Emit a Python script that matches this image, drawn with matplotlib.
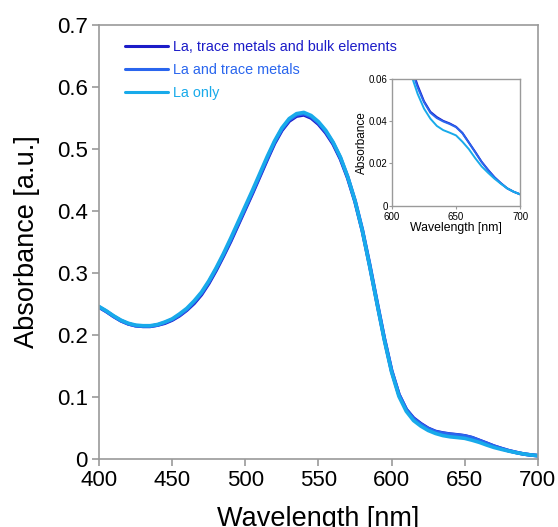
import matplotlib
matplotlib.use("Agg")
import matplotlib.pyplot as plt
from matplotlib.ticker import FuncFormatter

plt.rcParams['font.family'] = ['Liberation Sans', 'DejaVu Sans']

# UV-Vis absorbance spectra, 400-700 nm in 5 nm steps
wl = list(range(400, 705, 5))

# La, trace metals and bulk elements
abs_bulk = [0.245, 0.238, 0.230, 0.223, 0.218, 0.215, 0.214, 0.214, 0.216, 0.219,
            0.224, 0.231, 0.240, 0.251, 0.265, 0.283, 0.304, 0.327, 0.351, 0.377,
            0.403, 0.429, 0.456, 0.483, 0.509, 0.530, 0.545, 0.553, 0.555, 0.550,
            0.540, 0.526, 0.508, 0.484, 0.453, 0.415, 0.368, 0.312, 0.252, 0.194,
            0.142, 0.104, 0.080, 0.066, 0.057, 0.0495, 0.0445, 0.0420, 0.0402, 0.0390,
            0.0374, 0.0345, 0.0300, 0.0255, 0.0208, 0.0170, 0.0135, 0.0107, 0.0082, 0.0066,
            0.0054]

# La and trace metals
abs_trace = [0.245, 0.238, 0.230, 0.223, 0.218, 0.215, 0.214, 0.214, 0.216, 0.220,
             0.225, 0.232, 0.241, 0.253, 0.267, 0.285, 0.306, 0.329, 0.353, 0.379,
             0.405, 0.431, 0.458, 0.485, 0.511, 0.532, 0.547, 0.555, 0.557, 0.552,
             0.542, 0.528, 0.510, 0.486, 0.455, 0.417, 0.370, 0.314, 0.254, 0.195,
             0.143, 0.104, 0.080, 0.065, 0.056, 0.0490, 0.0440, 0.0415, 0.0399, 0.0387,
             0.0372, 0.0343, 0.0298, 0.0253, 0.0207, 0.0169, 0.0134, 0.0106, 0.0082, 0.0066,
             0.0054]

# La only
abs_la = [0.246, 0.239, 0.231, 0.224, 0.219, 0.216, 0.215, 0.215, 0.217, 0.221,
          0.226, 0.234, 0.243, 0.255, 0.269, 0.287, 0.308, 0.331, 0.356, 0.382,
          0.408, 0.434, 0.461, 0.488, 0.513, 0.534, 0.549, 0.557, 0.559, 0.554,
          0.544, 0.530, 0.511, 0.487, 0.455, 0.416, 0.368, 0.311, 0.251, 0.192,
          0.140, 0.101, 0.077, 0.062, 0.053, 0.0460, 0.0412, 0.0378, 0.0358, 0.0346,
          0.0333, 0.0303, 0.0268, 0.0225, 0.0186, 0.0156, 0.0128, 0.0104, 0.0082, 0.0066,
          0.0054]

series = [
    ("La, trace metals and bulk elements", abs_bulk, "#1c1cc8"),
    ("La and trace metals", abs_trace, "#2a66ee"),
    ("La only", abs_la, "#18aaea"),
]

grey = "#9a9a9a"

fig = plt.figure(figsize=(5.58, 5.27), dpi=100)
ax = fig.add_axes([0.1774, 0.129, 0.7866, 0.8236])

for label, y, c in series:
    ax.plot(wl, y, color=c, lw=2.6, label=label, solid_capstyle='round')

ax.set_xlim(400, 700)
ax.set_ylim(0, 0.7)
ax.set_xticks(range(400, 701, 50))
ax.set_yticks([0, 0.1, 0.2, 0.3, 0.4, 0.5, 0.6, 0.7])
ax.yaxis.set_major_formatter(FuncFormatter(lambda v, p: "0" if v == 0 else "%.1f" % v))
ax.tick_params(direction='out', length=5, width=1.2, color=grey, labelsize=16, pad=3)
for s in ax.spines.values():
    s.set_color(grey)
    s.set_linewidth(1.2)
ax.set_xlabel("Wavelength [nm]", fontsize=19.5, labelpad=11)
ax.set_ylabel("Absorbance [a.u.]", fontsize=19.5, labelpad=12)

leg = ax.legend(loc='upper left', bbox_to_anchor=(0.059, 0.966), frameon=False,
                fontsize=10.4, handlelength=3.0, handletextpad=0.35,
                labelspacing=0.62, borderpad=0, borderaxespad=0,
                labelcolor='linecolor')
for h in leg.get_lines():
    h.set_linewidth(2.2)

# inset: zoom on the 600-700 nm shoulder
ins = fig.add_axes([0.7025, 0.6097, 0.2295, 0.2403])
for label, y, c in series:
    ins.plot(wl, y, color=c, lw=1.4)
ins.set_xlim(600, 700)
ins.set_ylim(0, 0.06)
ins.set_xticks([600, 650, 700])
ins.set_yticks([0, 0.02, 0.04, 0.06])
ins.yaxis.set_major_formatter(FuncFormatter(lambda v, p: "0" if v == 0 else "%.2f" % v))
ins.tick_params(axis='y', direction='out', length=2, width=0.8, color=grey, labelsize=7, pad=1)
ins.tick_params(axis='x', direction='out', length=2, width=0.8, color=grey, labelsize=7, pad=2.5)
for s in ins.spines.values():
    s.set_color(grey)
    s.set_linewidth(1.0)
ins.set_xlabel("Wavelength [nm]", fontsize=8.8, labelpad=0)
ins.set_ylabel("Absorbance", fontsize=8.5, labelpad=1)

fig.savefig("out.png", dpi=100)
